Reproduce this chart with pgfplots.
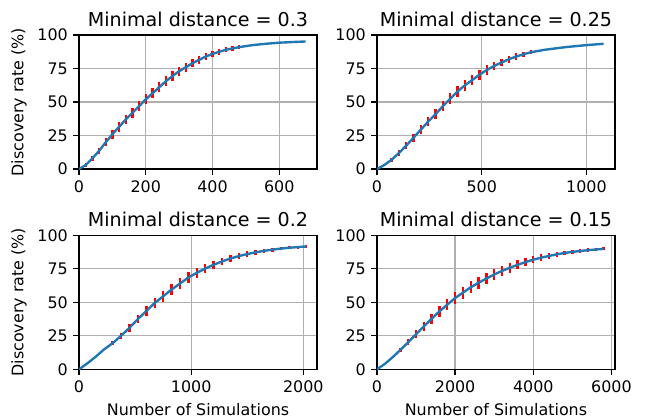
\documentclass[border=0pt]{standalone}
\usepackage{fontspec}
\setmainfont{DejaVu Sans}
\usepackage{pgfplots}
\usepackage{pgfplotstable}
\pgfplotsset{compat=1.18}

\definecolor{mplblue}{HTML}{1F77B4}
\definecolor{mplgrid}{HTML}{B0B0B0}

% x = simulations, y = discovery rate (%), e = half length of the error bar
\pgfplotstableread{
x y e
0 0 0
20 3 1.4
40 8 2
60 13.5 2.6
80 20 3.1
100 26 3.4
120 31.5 3.6
140 37 3.7
160 42 3.8
180 47 3.8
200 52 3.8
220 56.5 3.8
240 61 3.7
260 65.5 3.6
280 69.5 3.5
300 73 3.4
320 76 3.2
340 79 3
360 81.5 2.8
380 84 2.5
400 86 2.3
420 87.5 2.1
440 89 1.9
460 90 1.7
480 91 1.5
520 92.5 0
560 93.5 0
600 94.3 0
640 94.8 0
679 95.2 0
}\distA

\pgfplotstableread{
x y e
0 0 0
35 3 1
70 7 1.6
105 12 2.1
140 17.5 2.5
175 23.5 3
210 29.5 3.3
245 35.5 3.6
280 41 3.8
315 47 4
350 52.5 4.1
385 58 4.1
420 62.5 4
455 66.5 3.9
490 70.5 3.7
525 74 3.5
560 77 3.2
595 79.5 2.9
630 82 2.6
665 84 2.3
700 85.7 2
735 87.2 1.7
800 89 0
900 91 0
1000 92.5 0
1082 93.5 0
}\distB

\pgfplotstableread{
x y e
0 0 0
75 4.5 0
150 9.5 0
225 15 0
300 19.5 1.6
375 25 2.2
450 31 2.8
525 37.5 3.3
600 43.5 3.7
675 49.5 3.9
750 54.5 4
825 59.5 4
900 64 3.9
975 68.5 3.8
1050 72 3.6
1125 75.2 3.3
1200 78 3.1
1275 80.5 2.9
1350 82.7 2.6
1425 84.5 2.3
1500 86 2
1575 87.3 1.8
1650 88.4 1.6
1725 89.3 1.4
1800 90.1 1.3
1875 90.7 1.2
1950 91.2 1.1
2025 91.7 1
}\distC

\pgfplotstableread{
x y e
0 0 0
200 4 0
400 9 0
600 14.5 1.6
800 20.2 2.2
1000 26.2 2.8
1200 32 3.3
1400 37.8 3.7
1600 43.3 4
1800 48.3 4.3
2000 53.2 4.4
2200 57.2 4.5
2400 61.2 4.5
2600 64.6 4.4
2800 67.7 4.3
3000 70.8 4.1
3200 73.4 3.9
3400 75.8 3.6
3600 78 3.3
3800 80 3.1
4000 81.8 2.8
4200 83.3 2.5
4400 84.6 2.2
4600 85.8 2
4800 86.8 1.8
5000 87.6 1.6
5200 88.3 1.4
5400 88.9 1.3
5600 89.4 1.2
5800 89.9 1.1
}\distD

\pgfplotsset{
  every axis/.append style={
    scale only axis,
    width=149.7pt, height=84.3pt,
    anchor=south west,
    xmin=0, ymin=0, ymax=100,
    ytick={0,25,50,75,100},
    grid=major,
    major grid style={color=mplgrid, line width=0.8pt},
    axis line style={black, line width=0.8pt},
    tick style={black, line width=0.8pt},
    tick align=outside,
    major tick length=3.5pt,
    xtick pos=bottom, ytick pos=left,
    scaled ticks=false,
    /pgf/number format/1000 sep={},
    /pgf/number format/assume math mode=true,
    ticklabel style={font=\fontsize{10}{12}\selectfont},
    label style={font=\fontsize{10}{12}\selectfont},
  },
  every axis title/.style={font=\fontsize{12}{14.4}\selectfont,
    at={(0.5,1)}, anchor=base, yshift=5.5pt},
  mplcurve/.style={mplblue, line width=1.5pt, mark=none},
  errbars/.style={draw=none, mark=none,
    error bars/y dir=both, error bars/y explicit,
    error bars/error bar style={draw=red, line width=1.5pt},
    error bars/error mark=none},
}

\begin{document}
\begin{tikzpicture}
\useasboundingbox (0,0) rectangle (410.1pt,263.6pt);

\begin{axis}[at={(49.7pt,157.25pt)}, xmax=713, xtick={0,200,400,600},
    title={Minimal distance = 0.3}, ylabel={Discovery rate (\%)}]
  \addplot[errbars, restrict x to domain=20:480] table[x=x, y=y, y error=e] {\distA};
  \addplot[mplcurve] table[x=x, y=y] {\distA};
\end{axis}

\begin{axis}[at={(237.1pt,157.25pt)}, xmax=1136, xtick={0,500,1000},
    title={Minimal distance = 0.25}]
  \addplot[errbars, restrict x to domain=35:735] table[x=x, y=y, y error=e] {\distB};
  \addplot[mplcurve] table[x=x, y=y] {\distB};
\end{axis}

\begin{axis}[at={(49.7pt,31.3pt)}, xmax=2122, xtick={0,1000,2000},
    title={Minimal distance = 0.2}, ylabel={Discovery rate (\%)},
    xlabel={Number of Simulations}]
  \addplot[errbars, restrict x to domain=300:2025] table[x=x, y=y, y error=e] {\distC};
  \addplot[mplcurve] table[x=x, y=y] {\distC};
\end{axis}

\begin{axis}[at={(237.1pt,31.3pt)}, xmax=6090, xtick={0,2000,4000,6000},
    title={Minimal distance = 0.15}, xlabel={Number of Simulations}]
  \addplot[errbars, restrict x to domain=600:5800] table[x=x, y=y, y error=e] {\distD};
  \addplot[mplcurve] table[x=x, y=y] {\distD};
\end{axis}
\end{tikzpicture}
\end{document}
